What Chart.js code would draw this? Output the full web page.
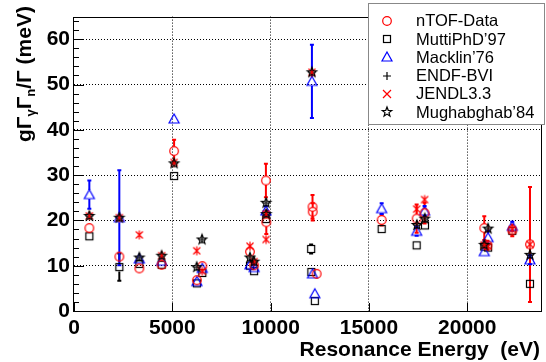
<!DOCTYPE html>
<html><head><meta charset="utf-8">
<script src="https://cdn.jsdelivr.net/npm/chart.js@4/dist/chart.umd.min.js"></script>
<style>html,body{margin:0;padding:0;background:#fff;}</style>
</head><body>
<canvas id="c" width="546" height="362"></canvas>
<script>
// ---- Data (energy in eV, value in meV) ----
const nTofE   = [780, 2305, 3322, 4458, 5090, 6250, 6525, 8950, 9160, 9760, 9780, 12130, 12140, 12340, 15646, 17425, 17830, 20865, 21020, 22289, 23190];
const nTofY   = [18.3, 12.0, 9.4, 10.2, 35.3, 6.8, 9.9, 13.1, 10.1, 28.8, 19.6, 23.0, 21.9, 8.2, 20.1, 20.4, 21.6, 18.3, 14.5, 17.8, 14.7];
const nTofErr = [0.6, 0.8, 0.5, 0.6, 2.5, 0.4, 0.5, 0.8, 0.6, 3.7, 2.6, 2.6, 1.9, 0.5, 1.2, 3.1, 2.3, 2.6, 1.0, 1.3, 12.7];

const muttiE   = [780, 2305, 3322, 4458, 5090, 6250, 6525, 8950, 9160, 9770, 12060, 12070, 12250, 15646, 17425, 17850, 20865, 21060, 22289, 23190];
const muttiY   = [16.5, 9.7, 10.4, 10.2, 29.8, 6.1, 8.4, 10.0, 8.8, 20.3, 13.7, 8.6, 2.2, 18.1, 14.5, 18.9, 14.2, 14.0, 17.7, 6.0];
const muttiErr = [0.4, 3.0, 0.4, 0.4, 0.8, 0.3, 0.3, 0.4, 0.3, 0.8, 1.0, 0.5, 0.2, 0.5, 0.5, 0.6, 0.5, 0.5, 0.5, 0.4];

const macklinE   = [780, 2305, 3322, 4458, 5090, 6250, 6525, 8950, 9160, 9760, 12100, 12130, 12250, 15646, 17425, 17830, 20865, 21060, 22289, 23190];
const macklinY   = [25.7, 20.6, 11.5, 11.0, 42.4, 6.5, 9.4, 10.2, 9.6, 22.1, 50.7, 8.2, 3.8, 22.6, 17.6, 22.1, 13.1, 16.2, 18.7, 11.3];
const macklinErr = [3.1, 10.5, 0.6, 0.6, 0.8, 0.4, 0.5, 0.5, 0.5, 1.0, 8.1, 0.6, 0.3, 1.2, 1.0, 1.1, 0.6, 1.5, 1.0, 1.0];

const endfE = [780, 2305, 3322, 4458, 5090, 6240, 6510, 8950, 9160, 9770, 9780, 12100, 17440, 17840, 20865, 21060, 23190];
const endfY = [21.0, 20.6, 11.8, 12.2, 32.6, 9.7, 15.8, 11.8, 10.9, 23.9, 21.4, 52.7, 19.0, 20.4, 14.6, 18.2, 12.4];

const jendlE = [780, 2305, 3322, 4458, 5090, 6240, 6525, 8950, 9160, 9770, 9770, 12100, 17425, 17830, 20865, 21060, 22289, 23190];
const jendlY = [21.0, 20.6, 16.8, 12.2, 32.8, 13.3, 8.8, 14.3, 10.9, 21.4, 15.8, 52.7, 22.5, 24.6, 14.6, 14.3, 18.0, 14.7];

const mughE = [780, 2305, 3322, 4458, 5090, 6240, 6510, 8950, 9160, 9770, 9780, 12100, 17440, 17840, 20865, 21060, 23190];
const mughY = [21.0, 20.6, 11.8, 12.2, 32.6, 9.7, 15.8, 11.8, 10.9, 23.9, 21.4, 52.7, 19.0, 20.4, 14.6, 18.2, 12.4];

const seriesLabels = ['nTOF-Data', 'MuttiPhD\u201997', 'Macklin\u201976', 'ENDF-BVI', 'JENDL3.3', 'Mughabghab\u201984'];
const xTicks = [0, 5000, 10000, 15000, 20000];
const yTicks = [0, 10, 20, 30, 40, 50, 60];

// ---- marker images ----
function mk(fn){ const c=document.createElement('canvas'); c.width=c.height=16; const g=c.getContext('2d'); g.translate(8,8); g.lineWidth=1.2; fn(g); return c; }
const mCircle = mk(g=>{g.strokeStyle='#ff0000'; g.beginPath(); g.arc(0,0,4.3,0,Math.PI*2); g.stroke();});
const mSquare = mk(g=>{g.strokeStyle='#000'; g.strokeRect(-3.5,-3.5,7,7);});
const mTri = mk(g=>{g.strokeStyle='#0000ff'; g.beginPath(); g.moveTo(0,-5); g.lineTo(5,4); g.lineTo(-5,4); g.closePath(); g.stroke();});
const mPlus = mk(g=>{g.strokeStyle='#000'; g.beginPath(); g.moveTo(-4,0); g.lineTo(4,0); g.moveTo(0,-4); g.lineTo(0,4); g.stroke();});
const mAst = mk(g=>{g.strokeStyle='#ff0000'; g.beginPath(); g.moveTo(-3.5,-3.5); g.lineTo(3.5,3.5); g.moveTo(3.5,-3.5); g.lineTo(-3.5,3.5); g.moveTo(0,-4.5); g.lineTo(0,4.5); g.stroke();});
const mX = mk(g=>{g.strokeStyle='#ff0000'; g.beginPath(); g.moveTo(-4,-4); g.lineTo(4,4); g.moveTo(4,-4); g.lineTo(-4,4); g.stroke();});
const mStar = mk(g=>{g.strokeStyle='#000'; g.beginPath(); for(let i=0;i<10;i++){const r=i%2?2.1:5; const a=-Math.PI/2+i*Math.PI/5; const px=r*Math.cos(a), py=r*Math.sin(a); i?g.lineTo(px,py):g.moveTo(px,py);} g.closePath(); g.stroke();});

const pts = (E,Y)=>E.map((e,i)=>({x:e,y:Y[i]}));

function ds(label, E, Y, img, order, color, errs){
  return {label, data:pts(E,Y), pointStyle:img, pointRadius:4, pointHoverRadius:4, showLine:false, order, errs, errColor:color};
}

const errPlugin = {
  id:'errbars',
  beforeDatasetsDraw(chart){
    const ctx=chart.ctx, xs=chart.scales.x, ys=chart.scales.y;
    chart.data.datasets.forEach(d=>{
      if(!d.errs) return;
      ctx.save(); ctx.strokeStyle=d.errColor; ctx.lineWidth=2;
      d.data.forEach((p,i)=>{
        const e=d.errs[i]; const px=xs.getPixelForValue(p.x), pc=ys.getPixelForValue(p.y);
        const pt=ys.getPixelForValue(p.y+e), pb=ys.getPixelForValue(p.y-e), gap=4.5;
        ctx.beginPath();
        if(pt < pc-gap){ ctx.moveTo(px,pt); ctx.lineTo(px,pc-gap); ctx.moveTo(px-2,pt); ctx.lineTo(px+2,pt); }
        if(pb > pc+gap){ ctx.moveTo(px,pc+gap); ctx.lineTo(px,pb); ctx.moveTo(px-2,pb); ctx.lineTo(px+2,pb); }
        ctx.stroke();
      });
      ctx.restore();
    });
  }
};

const decoPlugin = {
  id:'deco',
  afterDatasetsDraw(chart){
    const ctx=chart.ctx, a=chart.chartArea, xs=chart.scales.x, ys=chart.scales.y;
    ctx.save();
    ctx.strokeStyle='#000'; ctx.lineWidth=1;
    ctx.beginPath();
    for(let v=0; v<=ys.max; v+=2){ const y=Math.round(ys.getPixelForValue(v))+0.5; const len=yTicks.includes(v)?10:5; ctx.moveTo(a.left, y); ctx.lineTo(a.left+len, y); }
    xTicks.forEach(v=>{ const x=Math.round(xs.getPixelForValue(v))+0.5; ctx.moveTo(x, a.bottom); ctx.lineTo(x, a.bottom-8); });
    ctx.stroke();
    ctx.strokeRect(Math.round(a.left)-0.5, Math.round(a.top)+0.5, Math.round(a.right-a.left)+1, Math.round(a.bottom-a.top));
    ctx.restore();
  },
  afterDraw(chart){
    const ctx=chart.ctx;
    ctx.save();
    ctx.fillStyle='#000';
    ctx.font='bold 21px "Liberation Sans", Arial, sans-serif';
    ctx.textAlign='right'; ctx.textBaseline='alphabetic';
    ctx.fillText('Resonance Energy  (eV)', 540, 356);
    ctx.translate(31, 142); ctx.rotate(-Math.PI/2);
    ctx.textAlign='left';
    let x=0;
    const big='bold 21px "Liberation Sans", Arial, sans-serif', small='bold 13px "Liberation Sans", Arial, sans-serif';
    const parts=[['g',big,0],['\u0393',big,0],['\u03b3',small,4],['\u0393',big,0],['n',small,4],['/\u0393 (meV)',big,0]];
    parts.forEach(([t,f,dy])=>{ ctx.font=f; ctx.fillText(t,x,dy); x+=ctx.measureText(t).width; });
    ctx.restore();
    ctx.save();
    ctx.fillStyle='#fff'; ctx.fillRect(368,3,177,121);
    ctx.strokeStyle='#888'; ctx.lineWidth=1; ctx.strokeRect(368.5,3.5,176,121);
    const imgs=[mCircle,mSquare,mTri,mPlus,mX,mStar];
    ctx.font='16.5px "Liberation Sans", Arial, sans-serif'; ctx.fillStyle='#000';
    ctx.textAlign='left'; ctx.textBaseline='middle';
    seriesLabels.forEach((l,i)=>{
      const y=20.7+i*18.3;
      ctx.drawImage(imgs[i], 387-8, Math.round(y)-8);
      ctx.fillText(l, 416, y+1);
    });
    ctx.restore();
  }
};

const tickFont={family:'"Liberation Sans", Arial, sans-serif', size:21, weight:'bold'};
const gridColor = c => (c.tick && c.tick.value>0) ? '#000' : 'rgba(0,0,0,0)';

new Chart(document.getElementById('c'), {
  type:'scatter',
  data:{datasets:[
    ds(seriesLabels[0], nTofE, nTofY, mCircle, 3, '#ff0000', nTofErr),
    ds(seriesLabels[1], muttiE, muttiY, mSquare, 5, '#000000', muttiErr),
    ds(seriesLabels[2], macklinE, macklinY, mTri, 4, '#0000ff', macklinErr),
    ds(seriesLabels[3], endfE, endfY, mPlus, 2, '#000', null),
    ds(seriesLabels[4], jendlE, jendlY, mAst, 1, '#ff0000', null),
    ds(seriesLabels[5], mughE, mughY, mStar, 0, '#000', null)
  ]},
  options:{
    responsive:false, animation:false, devicePixelRatio:1,
    layout:{padding:{top:9,right:5,left:0,bottom:0}},
    plugins:{legend:{display:false}, tooltip:{enabled:false}},
    scales:{
      x:{type:'linear', min:0, max:23750,
        ticks:{font:tickFont, color:'#000', padding:5, maxRotation:0, minRotation:0, autoSkip:false, callback:v=>String(v)},
        afterBuildTicks:s=>{ s.ticks = xTicks.map(v=>({value:v})); },
        afterFit:s=>{s.height=51;},
        grid:{drawTicks:false, color:gridColor, lineWidth:1},
        border:{display:false, dash:[1,2]}
      },
      y:{type:'linear', min:0, max:65,
        ticks:{font:tickFont, color:'#000', padding:4, autoSkip:false, callback:v=>String(v)},
        afterBuildTicks:s=>{ s.ticks = yTicks.map(v=>({value:v})); },
        afterFit:s=>{s.width=74;},
        grid:{drawTicks:false, color:gridColor, lineWidth:1},
        border:{display:false, dash:[1,2]}
      }
    }
  },
  plugins:[errPlugin, decoPlugin]
});
</script>
</body></html>
